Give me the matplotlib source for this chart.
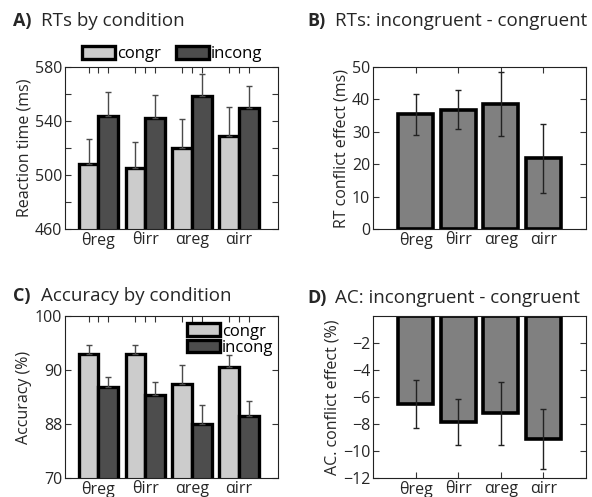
import numpy as np
import matplotlib
matplotlib.use("Agg")
import matplotlib.pyplot as plt
from matplotlib.patches import Patch

plt.rcParams['font.family'] = ['Open Sans', 'DejaVu Sans']

conditions = ["\u03b8reg", "\u03b8irr", "\u03b1reg", "\u03b1irr"]

# A) reaction times (ms)
rt_congr = [508.5, 505.3, 520.4, 529.0]
rt_congr_err = [18.5, 19.3, 21.4, 21.4]
rt_incong = [543.5, 542.3, 558.6, 550.0]
rt_incong_err = [18.0, 17.2, 16.4, 15.7]

# B) RT conflict effect (ms)
rt_effect = [35.4, 36.9, 38.7, 21.8]
rt_effect_err = [6.4, 6.1, 9.9, 10.5]

# C) accuracy (%)
ac_congr = [93.05, 93.05, 87.5, 90.5]
ac_congr_err = [1.65, 1.65, 3.5, 2.25]
ac_incong = [86.8, 85.4, 80.1, 81.55]
ac_incong_err = [1.95, 2.4, 3.5, 2.75]
ac_ticklabels = ["70", "88", "90", "100"]

# D) accuracy conflict effect (%)
ac_effect = [-6.5, -7.85, -7.2, -9.1]
ac_effect_err = [1.8, 1.7, 2.35, 2.25]

light = "#cccccc"
dark = "#4d4d4d"
mid = "#808080"
txt = "#262626"
FS = 11.5

fig = plt.figure(figsize=(5.92, 4.97), dpi=100)

def style(ax):
	ax.tick_params(direction="in", length=4, width=0.8, colors="#333333",
				   labelcolor=txt, labelsize=FS, top=True, right=True, pad=2)
	ax.tick_params(which="minor", direction="in", length=4, width=0.8,
				   colors="#333333", top=True, right=True)
	for s in ax.spines.values():
		s.set_linewidth(0.8)
		s.set_color("#222222")

def grouped(ax, congr, congr_err, incong, incong_err):
	x = np.arange(1, len(conditions) + 1)
	w = 0.42
	ax.bar(x - w / 2, congr, w, color=light, edgecolor="black", linewidth=2.4,
		   yerr=[np.zeros(len(congr)), congr_err], capsize=2.5,
		   error_kw=dict(ecolor="#4a4a4a", elinewidth=1, capthick=1), zorder=2)
	ax.bar(x + w / 2, incong, w, color=dark, edgecolor="black", linewidth=2.4,
		   yerr=[np.zeros(len(incong)), incong_err], capsize=2.5,
		   error_kw=dict(ecolor="#4a4a4a", elinewidth=1, capthick=1), zorder=2)
	ax.set_xlim(0.29, 4.84)
	ax.set_xticks(x)
	ax.set_xticks(np.concatenate([x - w / 2, x + w / 2]), minor=True)
	ax.set_xticklabels(conditions)
	ax.tick_params(axis="x", which="major", length=0)

def single(ax, vals, errs):
	x = np.arange(1, len(conditions) + 1)
	ax.bar(x, vals, 0.82, color=mid, edgecolor="black", linewidth=2.6,
		   yerr=errs, capsize=2.5,
		   error_kw=dict(ecolor="#222222", elinewidth=1, capthick=1), zorder=2)
	ax.set_xlim(0, 5)
	ax.set_xticks(x)
	ax.set_xticklabels(conditions)

handles = [Patch(facecolor=light, edgecolor="black", linewidth=2.4, label="congr"),
		   Patch(facecolor=dark, edgecolor="black", linewidth=2.4, label="incong")]

# A
axA = fig.add_axes([0.110, 0.539, 0.360, 0.326])
grouped(axA, rt_congr, rt_congr_err, rt_incong, rt_incong_err)
axA.set_ylim(460, 580)
axA.set_yticks([460, 480, 500, 520, 540, 560, 580])
axA.set_yticklabels(["460", "", "500", "", "540", "", "580"])
axA.set_ylabel("Reaction time (ms)", fontsize=FS, color=txt, labelpad=2)
style(axA)
axA.legend(handles=handles, loc="lower left", bbox_to_anchor=(0.07, 1.02), ncol=2,
		   frameon=False, fontsize=12, handlelength=2.0, handleheight=0.8,
		   handletextpad=0.1, columnspacing=0.9, borderaxespad=0, borderpad=0.1)

# B
axB = fig.add_axes([0.630, 0.539, 0.360, 0.326])
single(axB, rt_effect, rt_effect_err)
axB.set_ylim(0, 50)
axB.set_yticks([0, 10, 20, 30, 40, 50])
axB.set_ylabel("RT conflict effect (ms)", fontsize=FS, color=txt, labelpad=2)
style(axB)

# C
axC = fig.add_axes([0.110, 0.038, 0.360, 0.326])
grouped(axC, ac_congr, ac_congr_err, ac_incong, ac_incong_err)
axC.set_ylim(70, 100)
axC.set_yticks([70, 80, 90, 100])
axC.set_yticklabels(ac_ticklabels)
axC.set_ylabel("Accuracy (%)", fontsize=FS, color=txt, labelpad=2)
style(axC)
axC.legend(handles=handles, loc="upper right", bbox_to_anchor=(0.985, 0.965),
		   frameon=False, fontsize=12, handlelength=2.0, handleheight=0.8,
		   handletextpad=0.1, labelspacing=0.0, borderaxespad=0, borderpad=0.1)

# D
axD = fig.add_axes([0.630, 0.038, 0.360, 0.326])
single(axD, ac_effect, ac_effect_err)
axD.set_ylim(-12, 0)
axD.set_yticks([-12, -10, -8, -6, -4, -2])
axD.set_ylabel("AC. conflict effect (%)", fontsize=FS, color=txt, labelpad=2)
style(axD)

# panel titles
for xp, yp, letter, title in [(13, 21, "A)", "RTs by condition"),
							  (307, 21, "B)", "RTs: incongruent - congruent"),
							  (13, 296, "C)", "Accuracy by condition"),
							  (307, 298, "D)", "AC: incongruent - congruent")]:
	fig.text(xp / 592, 1 - yp / 497, letter, fontsize=13, fontweight="bold",
			 color=txt, va="center", ha="left")
	fig.text((xp + 28) / 592, 1 - yp / 497, title, fontsize=13.5,
			 color=txt, va="center", ha="left")

fig.savefig("out.png", dpi=100)
